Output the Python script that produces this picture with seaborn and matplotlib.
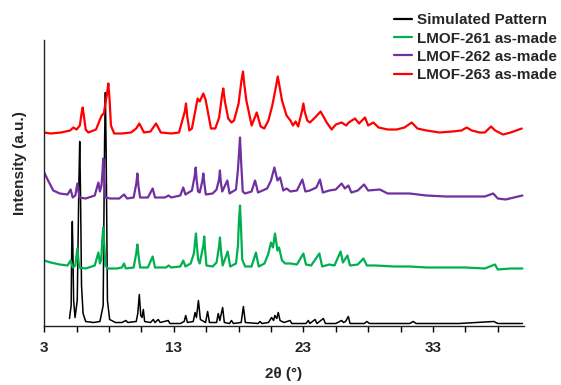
import numpy as np
import matplotlib
matplotlib.use("Agg")
import matplotlib.pyplot as plt
import matplotlib.ticker as ticker
import seaborn as sns

sim_x = [4.95, 5.08, 5.12, 5.17, 5.22, 5.27, 5.38, 5.55, 5.68, 5.74, 5.8, 5.88, 6.0, 6.2, 6.8, 7.3,
         7.55, 7.66, 7.72, 7.78, 7.88, 8.05,
         8.5, 9.0, 9.3, 9.45, 10.1, 10.22, 10.34, 10.45, 10.55, 10.65, 10.75, 11.2, 11.42, 11.55,
         11.8, 11.95, 12.57, 12.7, 13.5, 13.8, 13.92, 14.05, 14.5, 14.64, 14.75, 14.9, 15.05, 15.45,
         15.61, 15.75, 16.3, 16.43, 16.55, 16.77, 16.9, 17.3, 17.45, 17.6, 18.2, 18.37, 18.52, 19.5,
         19.65, 19.8, 20.3, 20.55, 20.7, 20.8, 20.95, 21.06, 21.2, 21.5, 21.97, 22.1, 23.2, 23.38,
         23.5, 23.9, 24.05, 24.54, 24.7, 25.5, 25.95, 26.1, 26.25, 26.47, 26.6, 27.7, 27.9, 28.1,
         31.2, 31.48, 31.7, 35.0, 37.7, 37.85, 38.0, 39.9]
sim_y = [7, 20, 75, 104, 70, 25, 8, 25, 145, 184, 135, 40, 12, 4, 3, 4,
         20, 185, 233, 175, 25, 6,
         3, 3, 5, 3, 4, 12, 31, 10, 8, 16, 4, 3, 6, 3,
         6, 3, 5, 2, 2, 4, 10, 3, 4, 13, 8, 25, 6, 3,
         14, 3, 3, 12, 5, 18, 3, 2, 5, 2, 3, 19, 3, 2,
         4, 2, 3, 8, 5, 10, 7, 13, 5, 3, 5, 2, 2, 5,
         2, 6, 2, 7, 2, 2, 5, 3, 4, 9, 2, 2, 4, 2,
         2, 4, 2, 2, 4, 3, 2, 2]

l261_x = [3.0, 3.5, 4.2, 4.8, 5.04, 5.2, 5.4, 5.56, 5.7, 6.2, 6.9, 7.18, 7.3, 7.4, 7.48, 7.56, 7.64,
          7.72, 7.9, 8.6, 9.0, 9.16, 9.3, 9.9, 10.1, 10.19, 10.28, 10.4, 11.0, 11.37, 11.55, 12.4,
          12.6, 12.8, 13.5, 13.73, 13.9, 14.3, 14.55, 14.65, 14.71, 14.78, 14.88, 15.0, 15.28, 15.35,
          15.42, 15.52, 16.0, 16.3, 16.48, 16.56, 16.64, 16.77, 17.16, 17.35, 17.8, 17.95, 18.03,
          18.11, 18.18, 18.28, 18.5, 19.0, 19.34, 19.55, 20.0, 20.3, 20.5, 20.65, 20.81, 21.0,
          21.12, 21.35, 21.6, 22.0, 22.5, 23.0, 23.2, 23.6, 24.23, 24.45, 25.0, 25.4, 25.87, 26.05,
          26.4, 26.6, 27.2, 27.63, 27.9, 28.6, 30.0, 31.2, 32.5, 34.0, 35.5, 37.0, 37.78, 38.0,
          39.0, 39.9]
l261_y = [65, 63, 61, 60, 65, 58, 60, 77, 58, 57, 60, 73, 62, 66, 85, 98, 80,
          60, 57, 57, 58, 62, 57, 58, 72, 81, 70, 58, 58, 69, 58, 58,
          60, 58, 59, 65, 59, 62, 72, 85, 92, 80, 66, 62, 80, 89,
          75, 60, 59, 63, 78, 88, 75, 60, 74, 59, 62, 80, 105,
          120, 100, 66, 59, 59, 73, 59, 62, 72, 83, 78, 92, 75,
          78, 65, 62, 62, 61, 72, 61, 60, 72, 59, 61, 60, 74, 63,
          70, 60, 61, 67, 60, 60, 59, 59, 58, 58, 58, 57, 61, 56,
          57, 57]

l262_x = [3.0, 3.3, 3.7, 4.2, 4.8, 5.04, 5.2, 5.4, 5.56, 5.72, 6.2, 6.9, 7.18, 7.3, 7.42, 7.49,
          7.56, 7.63, 7.72, 8.1, 8.8, 9.16, 9.4, 9.9, 10.11, 10.19, 10.27, 10.4, 11.0, 11.37, 11.55,
          12.3, 12.6, 12.8, 13.5, 13.73, 13.9, 14.4, 14.62, 14.69, 14.76, 14.87, 15.0, 15.21, 15.28,
          15.36, 15.47, 16.0, 16.3, 16.49, 16.56, 16.63, 16.74, 17.13, 17.3, 17.8, 17.95, 18.03,
          18.11, 18.19, 18.32, 18.5, 19.0, 19.27, 19.5, 20.2, 20.5, 20.76, 21.0, 21.2, 21.45, 21.7,
          22.0, 22.5, 22.92, 23.15, 23.5, 24.0, 24.28, 24.5, 25.0, 25.5, 25.95, 26.2, 26.47, 26.7,
          27.2, 27.68, 28.0, 28.9, 29.5, 31.2, 32.5, 34.0, 35.5, 37.0, 37.65, 38.0, 38.6, 39.9]
l262_y = [153, 145, 135, 132, 131, 136, 128, 130, 142, 128, 127, 130, 143, 134, 140, 152,
          167, 148, 128, 127, 127, 131, 127, 128, 142, 152, 140, 128, 128, 137, 128,
          128, 130, 128, 130, 138, 131, 135, 150, 158, 146, 134, 133, 145, 152,
          142, 131, 132, 136, 146, 155, 143, 134, 145, 132, 136, 156, 172,
          188, 165, 134, 132, 134, 145, 133, 137, 145, 158, 145, 148, 135, 137,
          134, 135, 146, 134, 135, 138, 146, 133, 135, 136, 142, 137, 140, 133,
          135, 141, 135, 136, 132, 132, 130, 129, 129, 129, 132, 127, 126, 130]

l263_x = [3.0, 3.5, 4.3, 5.0, 5.25, 5.5, 5.75, 5.88, 5.97, 6.06, 6.2, 6.4, 7.0, 7.43, 7.6, 7.85,
          7.95, 8.05, 8.15, 8.4, 9.0, 9.7, 10.1, 10.34, 10.7, 11.2, 11.63, 12.0, 12.8, 13.4, 13.85,
          13.94, 14.03, 14.2, 14.4, 14.84, 15.0, 15.28, 15.45, 15.87, 16.2, 16.5, 16.72, 16.82,
          16.93, 17.2, 17.45, 17.65, 18.0, 18.22, 18.34, 18.45, 18.6, 19.01, 19.4, 19.7, 19.98,
          20.3, 20.6, 20.9, 21.02, 21.12, 21.35, 21.7, 22.0, 22.2, 22.4, 22.6, 22.9, 23.0, 23.1,
          23.3, 23.5, 23.9, 24.33, 24.8, 25.18, 25.5, 25.95, 26.3, 26.5, 26.98, 27.3, 27.75, 28.0,
          28.4, 28.8, 29.5, 30.2, 30.8, 31.36, 31.8, 32.5, 33.5, 34.5, 35.2, 35.6, 36.0, 36.6,
          37.0, 37.48, 37.8, 38.4, 39.0, 39.85]
l263_y = [193, 192, 193, 195, 198, 196, 200, 212, 218, 210, 196, 193, 196, 210, 212, 232,
          242, 225, 200, 192, 192, 193, 197, 202, 193, 194, 202, 193, 192, 193, 214,
          222, 210, 195, 197, 227, 224, 232, 226, 197, 197, 208, 230, 237,
          225, 207, 203, 205, 222, 245, 254, 240, 225, 200, 213, 199, 197,
          205, 220, 240, 249, 242, 225, 210, 205, 200, 204, 199, 215, 222, 214,
          205, 203, 208, 214, 203, 196, 201, 203, 200, 203, 207, 202, 208, 200,
          203, 198, 196, 196, 198, 203, 197, 195, 193, 194, 195, 198, 195, 193,
          193, 199, 195, 191, 193, 197]

labels = ["Simulated Pattern", "LMOF-261 as-made", "LMOF-262 as-made", "LMOF-263 as-made"]
colors = ["#000000", "#00b050", "#7030a0", "#ff0000"]
x_major = [3, 13, 23, 33]

sns.set_style("ticks")
plt.rcParams["font.family"] = ["Liberation Sans", "DejaVu Sans"]
plt.rcParams["font.weight"] = "bold"

fig = plt.figure(figsize=(5.61, 3.85), dpi=100)
ax = fig.add_axes([44.2 / 561, 1 - 325.5 / 385, (523.7 - 44.2) / 561, (325.5 - 39.5) / 385])

series = [(sim_x, sim_y), (l261_x, l261_y), (l262_x, l262_y), (l263_x, l263_y)]
widths = [1.1, 1.6, 1.6, 1.6]
for (xs, ys), lab, col, lw in zip(series, labels, colors, widths):
    sns.lineplot(x=xs, y=ys, ax=ax, color=col, linewidth=lw, label=lab,
                 estimator=None, sort=True, solid_joinstyle="round")

ax.set_xlim(3, 40)
ax.set_ylim(0, 286)
ax.set_yticks([])
ax.set_xticks(x_major)
ax.xaxis.set_minor_locator(ticker.FixedLocator(np.arange(3, 40, 2.5)))
ax.tick_params(axis="x", which="both", direction="out", length=4, width=1,
               labelsize=11, pad=7, color="black")
for lab in ax.get_xticklabels():
    lab.set_fontweight("bold")

for side in ["top", "right"]:
    ax.spines[side].set_visible(False)
for side in ["left", "bottom"]:
    ax.spines[side].set_linewidth(1.0)
    ax.spines[side].set_color("#222222")

ax.set_xlabel("2θ (°)", fontsize=11, fontweight="bold", labelpad=9)
ax.set_ylabel("Intensity (a.u.)", fontsize=11, fontweight="bold")
ax.yaxis.set_label_coords(-0.036, 0.567)

leg = ax.legend(loc="upper left", bbox_to_anchor=(394 / 561, 1 - 13.5 / 385),
                bbox_transform=fig.transFigure, frameon=False, fontsize=11,
                handlelength=1.18, handletextpad=0.33, labelspacing=0.27,
                borderpad=0, borderaxespad=0)
for line in leg.get_lines():
    line.set_linewidth(1.6)
for t in leg.get_texts():
    t.set_fontweight("bold")

fig.savefig("out.png", dpi=100)
